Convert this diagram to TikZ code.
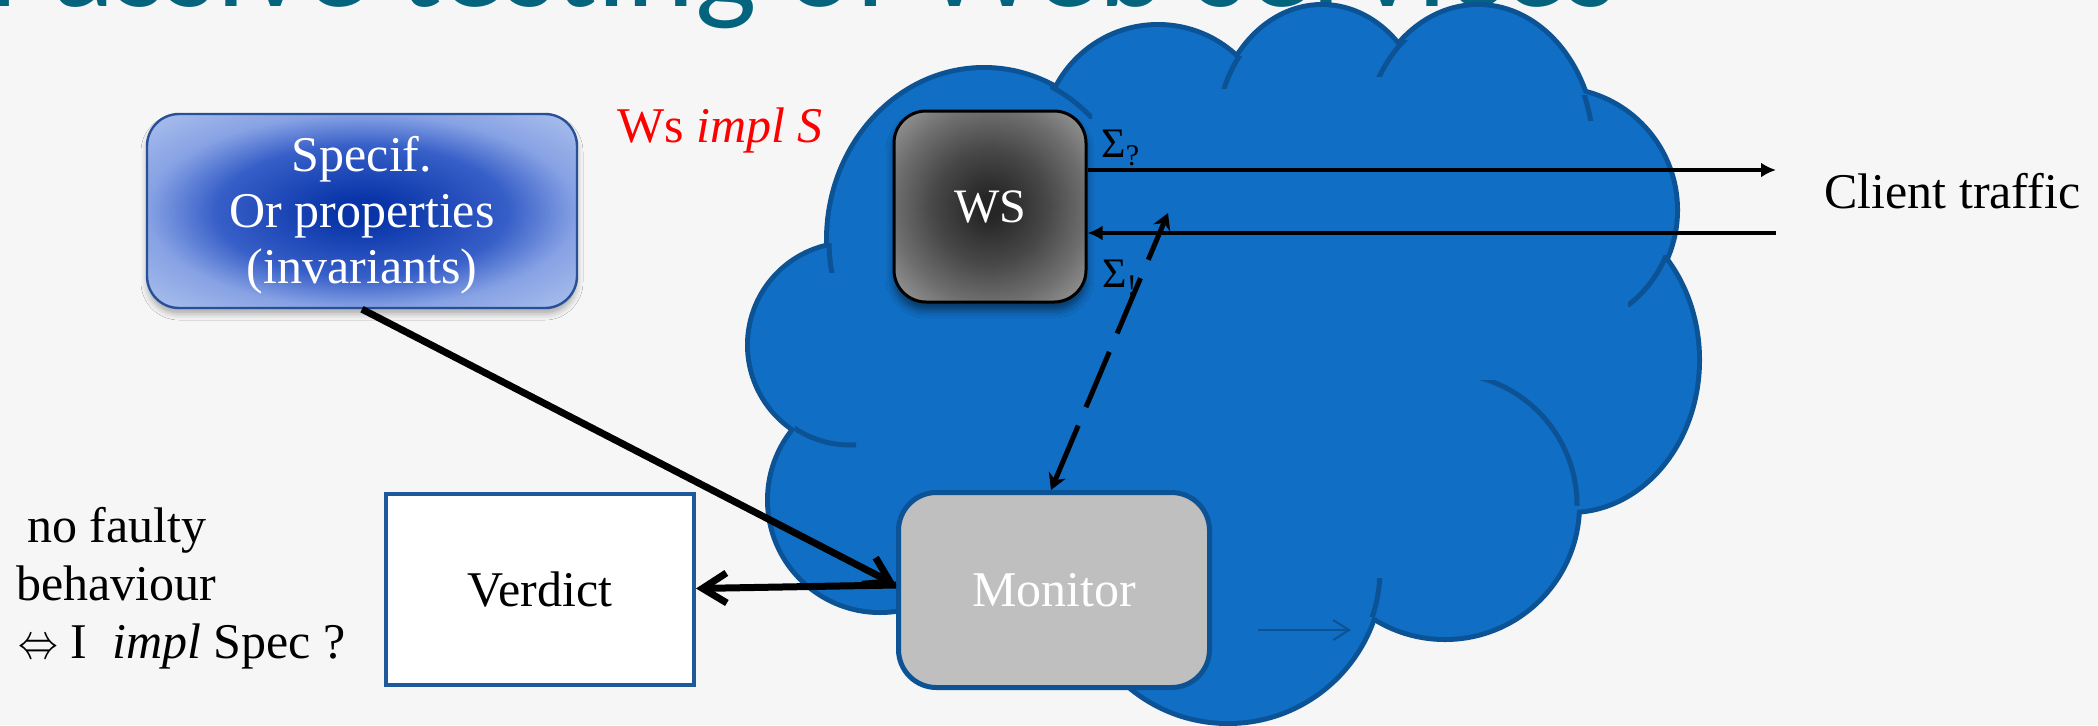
\documentclass[tikz,border=0pt]{standalone}
\usepackage{fontspec}
\setmainfont{Liberation Serif}
\newfontfamily\titlefont{Carlito}
\usetikzlibrary{arrows.meta,shadows.blur}

\definecolor{bgcol}{RGB}{246,246,246}
\definecolor{titlecol}{RGB}{4,100,125}
\definecolor{cloudfill}{RGB}{16,110,196}
\definecolor{cloudline}{RGB}{12,83,150}
\definecolor{monfill}{RGB}{191,191,191}
\definecolor{verline}{RGB}{30,90,155}
\definecolor{specline}{RGB}{40,80,150}
\definecolor{spA}{RGB}{8,52,168}
\definecolor{spB}{RGB}{55,95,200}
\definecolor{spC}{RGB}{135,162,228}
\definecolor{spD}{RGB}{175,195,238}
\definecolor{wsA}{RGB}{38,38,38}
\definecolor{wsB}{RGB}{72,72,72}
\definecolor{wsC}{RGB}{110,110,110}
\definecolor{wsD}{RGB}{160,160,160}
\pgfdeclareradialshading{specshade}{\pgfpoint{0bp}{0bp}}{color(0bp)=(spA); color(3bp)=(spA); color(17bp)=(spB); color(25bp)=(spC); color(36bp)=(spD); color(50bp)=(spD)}
\pgfdeclareradialshading{wsshade}{\pgfpoint{0bp}{0bp}}{color(0bp)=(wsA); color(3bp)=(wsA); color(15bp)=(wsB); color(25bp)=(wsC); color(36bp)=(wsD); color(50bp)=(wsD)}

\tikzset{
  txt/.style={font=\fontsize{25}{28}\selectfont, inner sep=0pt},
  titlestyle/.style={font=\titlefont\fontsize{65}{70}\selectfont, text=titlecol, inner sep=0pt},
  specbox/.style={txt, align=center, text=white, minimum width=215pt, minimum height=97pt,
     rounded corners=16pt, draw=specline, line width=1.2pt, shading=specshade,
     blur shadow={shadow xshift=0pt, shadow yshift=-3pt, shadow blur radius=3pt, shadow opacity=30}},
  wsbox/.style={font=\fontsize{24}{28}\selectfont, inner sep=0pt, text=white, minimum width=96pt, minimum height=95.5pt,
     rounded corners=16pt, draw=black, line width=1.5pt, shading=wsshade,
     blur shadow={shadow xshift=0pt, shadow yshift=-4pt, shadow blur radius=4pt, shadow opacity=50}},
  monbox/.style={txt, text=white, minimum width=155.5pt, minimum height=97.5pt,
     rounded corners=19pt, draw=cloudline, line width=2.5pt, fill=monfill},
  verbox/.style={txt, minimum width=154pt, minimum height=95.5pt, draw=verline, line width=2pt, fill=white},
  redtxt/.style={txt, text=red},
  sigtxt/.style={font=\fontsize{21}{24}\selectfont, inner sep=0pt},
  thinarr/.style={line width=2pt, -{Latex[length=7.5pt,width=7.5pt]}},
  bigarr/.style={line width=3.5pt, -{Straight Barb[length=12pt,width=15pt]}},
  dasharr/.style={line width=2.5pt, dash pattern=on 30pt off 10pt,
     {Stealth[length=8pt,width=9pt]}-{Stealth[length=8pt,width=9pt]}},
  smallarr/.style={draw=cloudline, line width=1pt, -{Straight Barb[length=8pt,width=10pt]}},
  cloudarc/.style={draw=cloudline, line width=2.5pt}
}

\begin{document}
\begin{tikzpicture}[x=0.5pt,y=-0.5pt]
\useasboundingbox (0,0) rectangle (2098,725);
\clip (0,0) rectangle (2098,725);
\fill[bgcol] (0,0) rectangle (2098,725);

% title (cut at the top)
\node[titlestyle, anchor=base west] (title) at (-12,6) {Passive testing of Web services};

% cloud
\def\lobes{850/345/100/100, 880/500/110/110, 1228/569/152/152, 1445/505/132/132, 1570/360/127/150, 1555/210/120/120, 1478/150/115/143, 1322/135/105/128, 1158/140/113/113, 984/240/155/170}
\foreach \cx/\cy/\rx/\ry in \lobes {\draw[draw=cloudline, line width=5pt, fill=cloudfill] (\cx,\cy) ellipse[x radius=\rx, y radius=\ry];}
\foreach \cx/\cy/\rx/\ry in \lobes {\fill[cloudfill] (\cx,\cy) ellipse[x radius=\rx, y radius=\ry];}
\fill[cloudfill] (850,345) -- (880,500) -- (1228,569) -- (1445,505) -- (1570,360) -- (1555,210) -- (1478,150) -- (1322,135) -- (1158,140) -- (984,240) -- cycle;
\foreach \cx/\cy/\rx/\ry/\xa/\ya/\xb/\yb in {984/240/155/170/1050/80/1092/118, 1322/135/105/128/1215/56/1250/88, 1478/150/115/143/1375/40/1410/76, 1478/150/115/143/1575/95/1600/120, 1555/210/120/120/1628/255/1672/306, 1445/505/132/132/1480/380/1582/505, 1228/569/152/152/1365/578/1385/616, 850/345/100/100/795/415/856/450, 984/240/155/170/822/243/845/272}
{\begin{scope}\clip (\xa,\ya) rectangle (\xb,\yb); \draw[cloudarc] (\cx,\cy) ellipse[x radius=\rx, y radius=\ry]; \end{scope}}

% nodes
\node[specbox] (spec) at (362,211) {\rule{0pt}{22pt}Specif.\\Or properties\\(invariants)};
\node[wsbox] (ws) at (990,206.5) {WS};
\node[monbox] (mon) at (1054,590) {Monitor};
\node[verbox] (ver) at (540,589.5) {Verdict};
\node[redtxt, anchor=base west] (wsimpl) at (617,142) {Ws \textit{impl S}};
\node[sigtxt, anchor=base west] (sigq) at (1101,157) {Σ\raisebox{-4pt}{\fontsize{15}{15}\selectfont ?}};
\node[sigtxt, anchor=base west] (sigx) at (1102,287) {Σ\raisebox{-4pt}{\fontsize{15}{15}\selectfont !}};
\node[txt, anchor=base west] (client) at (1824,208) {Client traffic};
\node[txt, anchor=base west] (l1) at (27,542) {no faulty};
\node[txt, anchor=base west] (l2) at (16,600) {behaviour};
\node[txt, anchor=base west] (l3) at (18,658) {\scalebox{0.8}[1]{$\Leftrightarrow$} I~ \textit{impl} Spec ?};

% connectors
\coordinate (ct1) at (1776,170);
\coordinate (ct2) at (1776,233);
\draw[thinarr] (ws.east |- ct1) -- (ct1);
\draw[thinarr] (ct2) -- (ws.east |- ct2);
\draw[bigarr] (spec.south) -- ([yshift=2.5pt]mon.west);
\draw[bigarr] ([yshift=2.5pt]mon.west) -- ([yshift=0.5pt]ver.east);
\coordinate (dtop) at (1168,213);
\draw[dasharr] ([xshift=-1.5pt]mon.north) -- (dtop);
\coordinate (sa1) at (1258,630);
\coordinate (sa2) at (1351,630);
\draw[smallarr] (sa1) -- (sa2);
\end{tikzpicture}
\end{document}
